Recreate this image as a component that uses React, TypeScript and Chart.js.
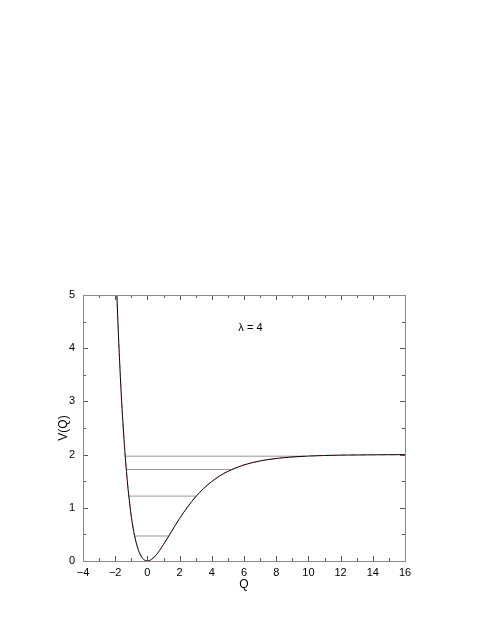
import React, { useEffect, useRef } from "react";
import { Chart, registerables } from "chart.js";

Chart.register(...registerables);

// Potential curve V(Q)
const qValues = [-1.9, -1.8, -1.7, -1.6, -1.5, -1.4, -1.3, -1.2, -1.1, -1.0, -0.9, -0.8, -0.7, -0.6, -0.5, -0.4, -0.3, -0.2, -0.1, 0, 0.25, 0.5, 0.75, 1.0, 1.5, 2.0, 2.5, 3.0, 3.5, 4.0, 4.5, 5.0, 6.0, 7.0, 8.0, 9.0, 10.0, 12.0, 14.0, 16.0];
const vValues = [5.03, 4.26, 3.59, 3.0, 2.5, 2.06, 1.68, 1.35, 1.08, 0.84, 0.64, 0.48, 0.35, 0.245, 0.16, 0.098, 0.05, 0.022, 0.005, 0, 0.028, 0.098, 0.196, 0.31, 0.557, 0.8, 1.018, 1.207, 1.365, 1.495, 1.6, 1.685, 1.806, 1.881, 1.927, 1.956, 1.973, 1.99, 1.996, 1.999];

// Energy levels and their turning points
const levelEnergies = [0.47, 1.22, 1.72, 1.97];
const levelLeft = [-0.78, -1.15, -1.31, -1.38];
const levelRight = [1.32, 3.03, 5.24, 9.7];

const xTicks = [-4, -2, 0, 2, 4, 6, 8, 10, 12, 14, 16];
const yTicks = [0, 1, 2, 3, 4, 5];
const annotationText = "λ = 4";
const annotationPos = { x: 6.4, y: 4.38 };

const FONT = "'Liberation Sans', Arial, Helvetica, sans-serif";

export default function App() {
  const ref = useRef<HTMLCanvasElement | null>(null);

  useEffect(() => {
    document.body.style.margin = "0";
    const canvas = ref.current;
    if (!canvas) return;

    const curve = qValues.map((q, i) => ({ x: q, y: vValues[i] }));
    const levelSets = levelEnergies.map((e, i) => ({
      data: [
        { x: levelLeft[i], y: e },
        { x: levelRight[i], y: e },
      ],
      borderColor: "#999999",
      borderWidth: 1,
      pointRadius: 0,
      tension: 0,
    }));

    const framePlugin = {
      id: "frameTicks",
      afterDatasetsDraw(chart: any) {
        const { ctx, chartArea: a, scales } = chart;
        const xs = scales.x;
        const ys = scales.y;
        ctx.save();
        // ticks
        ctx.strokeStyle = "#555555";
        ctx.lineWidth = 1;
        ctx.beginPath();
        for (let v = -4; v <= 16; v += 1) {
          const px = Math.round(xs.getPixelForValue(v)) + 0.5;
          const len = v % 2 === 0 ? 5 : 3;
          ctx.moveTo(px, a.bottom);
          ctx.lineTo(px, a.bottom - len);
          ctx.moveTo(px, a.top);
          ctx.lineTo(px, a.top + len);
        }
        for (let v = 0; v <= 5.001; v += 0.5) {
          const py = Math.round(ys.getPixelForValue(v)) + 0.5;
          const len = Math.abs(v - Math.round(v)) < 0.01 ? 5 : 3;
          ctx.moveTo(a.left, py);
          ctx.lineTo(a.left + len, py);
          ctx.moveTo(a.right, py);
          ctx.lineTo(a.right - len, py);
        }
        ctx.stroke();
        // frame
        ctx.strokeStyle = "#8a8a8a";
        ctx.strokeRect(Math.round(a.left) + 0.5, Math.round(a.top) + 0.5, Math.round(a.right - a.left), Math.round(a.bottom - a.top));
        // annotation
        ctx.fillStyle = "#000";
        ctx.font = `11px ${FONT}`;
        ctx.textAlign = "center";
        ctx.textBaseline = "middle";
        ctx.fillText(annotationText, xs.getPixelForValue(annotationPos.x), ys.getPixelForValue(annotationPos.y));
        ctx.restore();
      },
    };

    const chart = new Chart(canvas, {
      type: "line",
      data: {
        datasets: [
          {
            data: curve,
            borderColor: "rgba(170,0,0,0.45)",
            borderWidth: 1,
            borderDash: [5, 5],
            pointRadius: 0,
            cubicInterpolationMode: "monotone",
          },
          {
            data: curve,
            borderColor: "#000000",
            borderWidth: 1,
            pointRadius: 0,
            cubicInterpolationMode: "monotone",
          },
          ...levelSets,
        ] as any,
      },
      options: {
        animation: false,
        responsive: false,
        maintainAspectRatio: false,
        layout: { padding: { left: 0, top: 295, right: 83, bottom: 0 } },
        plugins: { legend: { display: false }, tooltip: { enabled: false } },
        events: [],
        scales: {
          x: {
            type: "linear",
            min: -4,
            max: 16,
            afterFit: (s: any) => {
              s.height = 71;
            },
            afterBuildTicks: (s: any) => {
              s.ticks = xTicks.map((v) => ({ value: v }));
            },
            grid: { display: false, drawTicks: false },
            border: { display: false },
            ticks: {
              padding: 5,
              color: "#000",
              font: { family: FONT, size: 11 },
              maxRotation: 0,
              autoSkip: false,
              callback: (v: any) => String(v).replace("-", "\u2212"),
            },
            title: {
              display: true,
              text: "Q",
              color: "#000",
              font: { family: FONT, size: 12 },
              padding: { top: 0, bottom: 40 },
            },
          },
          y: {
            type: "linear",
            min: 0,
            max: 5,
            afterFit: (s: any) => {
              s.width = 83;
            },
            afterBuildTicks: (s: any) => {
              s.ticks = yTicks.map((v) => ({ value: v }));
            },
            grid: { display: false, drawTicks: false },
            border: { display: false },
            ticks: {
              padding: 8,
              color: "#000",
              font: { family: FONT, size: 11 },
              autoSkip: false,
            },
            title: {
              display: true,
              text: "V(Q)",
              color: "#000",
              font: { family: FONT, size: 12 },
              padding: { top: 56, bottom: 0 },
            },
          },
        },
      } as any,
      plugins: [framePlugin],
    });

    return () => chart.destroy();
  }, []);

  return (
    <div style={{ position: "absolute", left: 0, top: 0, width: 488, height: 632 }}>
      <canvas ref={ref} width={488} height={632} style={{ width: 488, height: 632, display: "block" }} />
    </div>
  );
}
